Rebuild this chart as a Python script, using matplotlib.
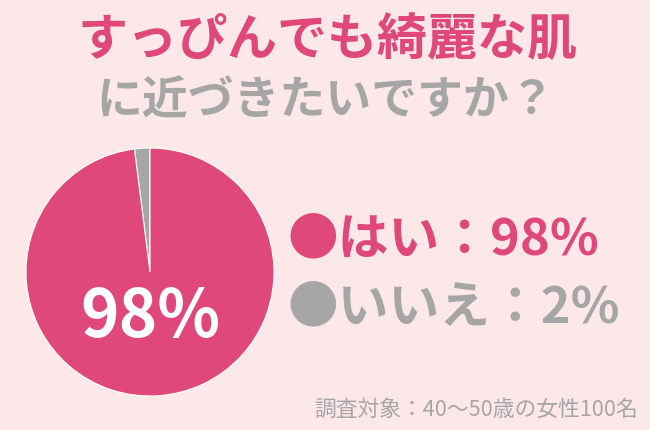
import matplotlib
matplotlib.use("Agg")
import matplotlib.pyplot as plt

plt.rcParams['font.family'] = ['Noto Sans CJK JP', 'DejaVu Sans']

# Survey data
labels = ["いいえ", "はい"]
values = [2, 98]
colors = ["#a6a6a6", "#e0487c"]

title_line1 = "すっぴんでも綺麗な肌"
title_line2 = "に近づきたいですか？"
note = "調査対象：40〜50歳の女性100名"

bg = "#fde8e9"
W, H = 650, 430

fig = plt.figure(figsize=(6.5, 4.3), dpi=100, facecolor=bg)

# Pie: center (150, 272), radius 124 in pixels
cx, cy, r = 150, 272, 124
ax = fig.add_axes([(cx - r) / W, 1 - (cy + r) / H, 2 * r / W, 2 * r / H])
ax.pie(values, colors=colors, startangle=90, counterclock=True,
       wedgeprops=dict(linewidth=0.8, edgecolor="white"))
ax.set_xlim(-1, 1)
ax.set_ylim(-1, 1)
ax.set_aspect("equal")
ax.axis("off")

# Big value on the pie
fig.text(150 / W, 1 - 318 / H, f"{values[1]}%", color="white",
         fontsize=47, fontweight="bold", ha="center", va="center")

# Titles
fig.text(328 / W, 1 - 41 / H, title_line1, color=colors[1], fontsize=36,
         fontweight="bold", ha="center", va="center")
fig.text(326 / W, 1 - 101 / H, title_line2, color=colors[0], fontsize=33,
         fontweight="bold", ha="center", va="center")

# Legend-style labels
fig.text(288 / W, 1 - 240 / H, f"●{labels[1]}：{values[1]}%", color=colors[1],
         fontsize=36.5, fontweight="bold", ha="left", va="center")
fig.text(288 / W, 1 - 308 / H, f"●{labels[0]}：{values[0]}%", color=colors[0],
         fontsize=36.5, fontweight="bold", ha="left", va="center")

# Footnote
fig.text(638 / W, 1 - 410 / H, note, color=colors[0], fontsize=15.7,
         ha="right", va="center")

fig.savefig("out.png", dpi=100, facecolor=bg)
